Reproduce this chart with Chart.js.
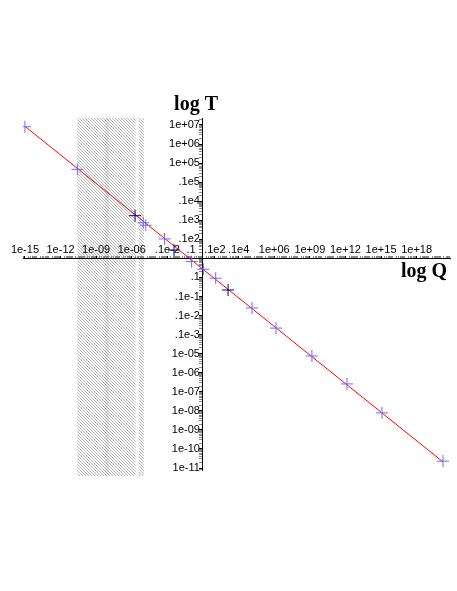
<!DOCTYPE html>
<html>
<head>
<meta charset="utf-8">
<script src="https://cdn.jsdelivr.net/npm/chart.js@4/dist/chart.umd.min.js"></script>
<style>
  body { margin: 0; background: #fff; }
  #wrap { width: 457px; height: 591px; }
</style>
</head>
<body>
<div id="wrap"><canvas id="chart" width="457" height="591"></canvas></div>
<script>
// values (Q on x, T on y, both log)
const pointQ = [1e-15, 2.6e-11, 9.3e-6, 1.5e-5, 5.8e-4, 0.11, 1.07, 11.7, 1.35e4, 1.4e6, 1.5e9, 1.35e12, 1.2e15, 1.66e20];
const pointT = [8.1e6, 4.7e4, 74, 55, 10.5, 0.68, 0.27, 0.091, 2.5e-3, 2.2e-4, 7.6e-6, 2.6e-7, 7.8e-9, 2.3e-11];
const darkQ = [1.9e-6, 3.6e-3, 129];
const darkT = [174, 2.75, 0.022];
const fitQ = [1e-15, 1.66e20];
const fitT = [8.5e6, 2.1e-11];

// hatched bands
const shadeFromQ = [2.6e-11, 3.8e-6];
const shadeToQ = [2.1e-6, 1.05e-5];
const shadeT = [3.8e-12, 2.3e7];
const bandQ = [5.5e-9, 1.2e-8];

const xTickExp = [-15, -12, -9, -6, -3, -1, 1, 3, 6, 9, 12, 15, 18];
const xTickLabels = ["1e-15", "1e-12", "1e-09", "1e-06", ".1e-2", ".1", ".1e2", ".1e4", "1e+06", "1e+09", "1e+12", "1e+15", "1e+18"];
const yTickExp = [7, 6, 5, 4, 3, 2, 1, -1, -2, -3, -4, -5, -6, -7, -8, -9, -10, -11];
const yTickLabels = ["1e+07", "1e+06", "1e+05", ".1e5", ".1e4", ".1e3", ".1e2", ".1", ".1e-1", ".1e-2", ".1e-3", "1e-05", "1e-06", "1e-07", "1e-08", "1e-09", "1e-10", "1e-11"];

function toXY(xs, ys) {
  return xs.map((v, i) => ({ x: v, y: ys[i] }));
}

// 1..9 ticks in every decade, labels only on the listed powers
function logTicks(scale, exps, labels) {
  const lo = Math.floor(Math.log10(scale.min));
  const hi = Math.ceil(Math.log10(scale.max));
  const ticks = [];
  for (let e = lo; e <= hi; e++) {
    for (let d = 1; d <= 9; d++) {
      const v = d * Math.pow(10, e);
      if (v < scale.min || v > scale.max) continue;
      const i = d === 1 ? exps.indexOf(e) : -1;
      ticks.push({ value: v, lab: i >= 0 ? labels[i] : "" });
    }
  }
  scale.ticks = ticks;
}

function tickShade(c) {
  return c.tick && c.tick.lab ? "#000" : "#888";
}

const extras = {
  id: "extras",
  beforeDraw(chart) {
    const { ctx, scales } = chart;
    const x = scales.x, y = scales.y;
    const tile = document.createElement("canvas");
    tile.width = 3;
    tile.height = 3;
    const t = tile.getContext("2d");
    t.fillStyle = "#fff";
    t.fillRect(0, 0, 3, 3);
    t.fillStyle = "#b4b4b4";
    for (let i = 0; i < 3; i++) t.fillRect(i, i, 1, 1);

    const top = y.getPixelForValue(shadeT[1]);
    const bottom = y.getPixelForValue(shadeT[0]);
    ctx.save();
    ctx.fillStyle = ctx.createPattern(tile, "repeat");
    for (let i = 0; i < shadeFromQ.length; i++) {
      const a = x.getPixelForValue(shadeFromQ[i]);
      const b = x.getPixelForValue(shadeToQ[i]);
      ctx.fillRect(a, top, b - a, bottom - top);
    }
    const b0 = x.getPixelForValue(bandQ[0]);
    const b1 = x.getPixelForValue(bandQ[1]);
    ctx.fillStyle = "rgba(0,0,0,0.07)";
    ctx.fillRect(b0, top, b1 - b0, bottom - top);
    ctx.restore();
  },
  afterDraw(chart) {
    const { ctx, scales, chartArea } = chart;
    ctx.save();
    ctx.fillStyle = "#000";
    ctx.font = 'bold 20px "Liberation Serif"';
    ctx.textAlign = "right";
    ctx.textBaseline = "alphabetic";
    ctx.fillText("log T", scales.x.getPixelForValue(1) + 15, chartArea.top - 8);
    ctx.fillText("log Q", chartArea.right - 3, scales.y.getPixelForValue(1) + 19);
    ctx.restore();
  },
};

const tickFont = { family: "Liberation Sans", size: 11 };

new Chart(document.getElementById("chart"), {
  type: "scatter",
  data: {
    datasets: [
      {
        data: toXY(darkQ, darkT),
        pointStyle: "cross",
        pointRadius: 6,
        pointBorderWidth: 1,
        borderColor: "#000080",
      },
      {
        data: toXY(pointQ, pointT),
        pointStyle: "cross",
        pointRadius: 6,
        pointBorderWidth: 1,
        borderColor: "#6b6bff",
      },
      {
        data: toXY(fitQ, fitT),
        showLine: true,
        pointRadius: 0,
        borderColor: "#ff0000",
        borderWidth: 1,
      },
    ],
  },
  options: {
    responsive: false,
    animation: false,
    devicePixelRatio: 1,
    layout: { padding: { left: 23, right: 7, top: 118, bottom: 121 } },
    plugins: { legend: { display: false }, tooltip: { enabled: false } },
    scales: {
      x: {
        type: "logarithmic",
        position: { y: 1 },
        bounds: "data",
        min: Math.pow(10, -15.164),
        max: Math.pow(10, 20.809),
        afterBuildTicks: (s) => logTicks(s, xTickExp, xTickLabels),
        grid: { drawOnChartArea: false, tickLength: -3, tickColor: tickShade },
        border: { color: "#000", width: 1 },
        ticks: {
          autoSkip: false,
          maxRotation: 0,
          padding: -12,
          color: "#000",
          font: tickFont,
          callback: (v, i, ticks) => ticks[i].lab,
        },
      },
      y: {
        type: "logarithmic",
        position: { x: 1 },
        bounds: "data",
        min: Math.pow(10, -11.102),
        max: Math.pow(10, 7.366),
        afterBuildTicks: (s) => logTicks(s, yTickExp, yTickLabels),
        grid: { drawOnChartArea: false, tickLength: 3, tickColor: tickShade },
        border: { color: "#000", width: 1 },
        ticks: {
          autoSkip: false,
          padding: 0,
          color: "#000",
          font: tickFont,
          // trailing space keeps the label clear of the axis line
          callback: (v, i, ticks) => (ticks[i].lab ? ticks[i].lab + " " : ""),
        },
      },
    },
  },
  plugins: [extras],
});
</script>
</body>
</html>
